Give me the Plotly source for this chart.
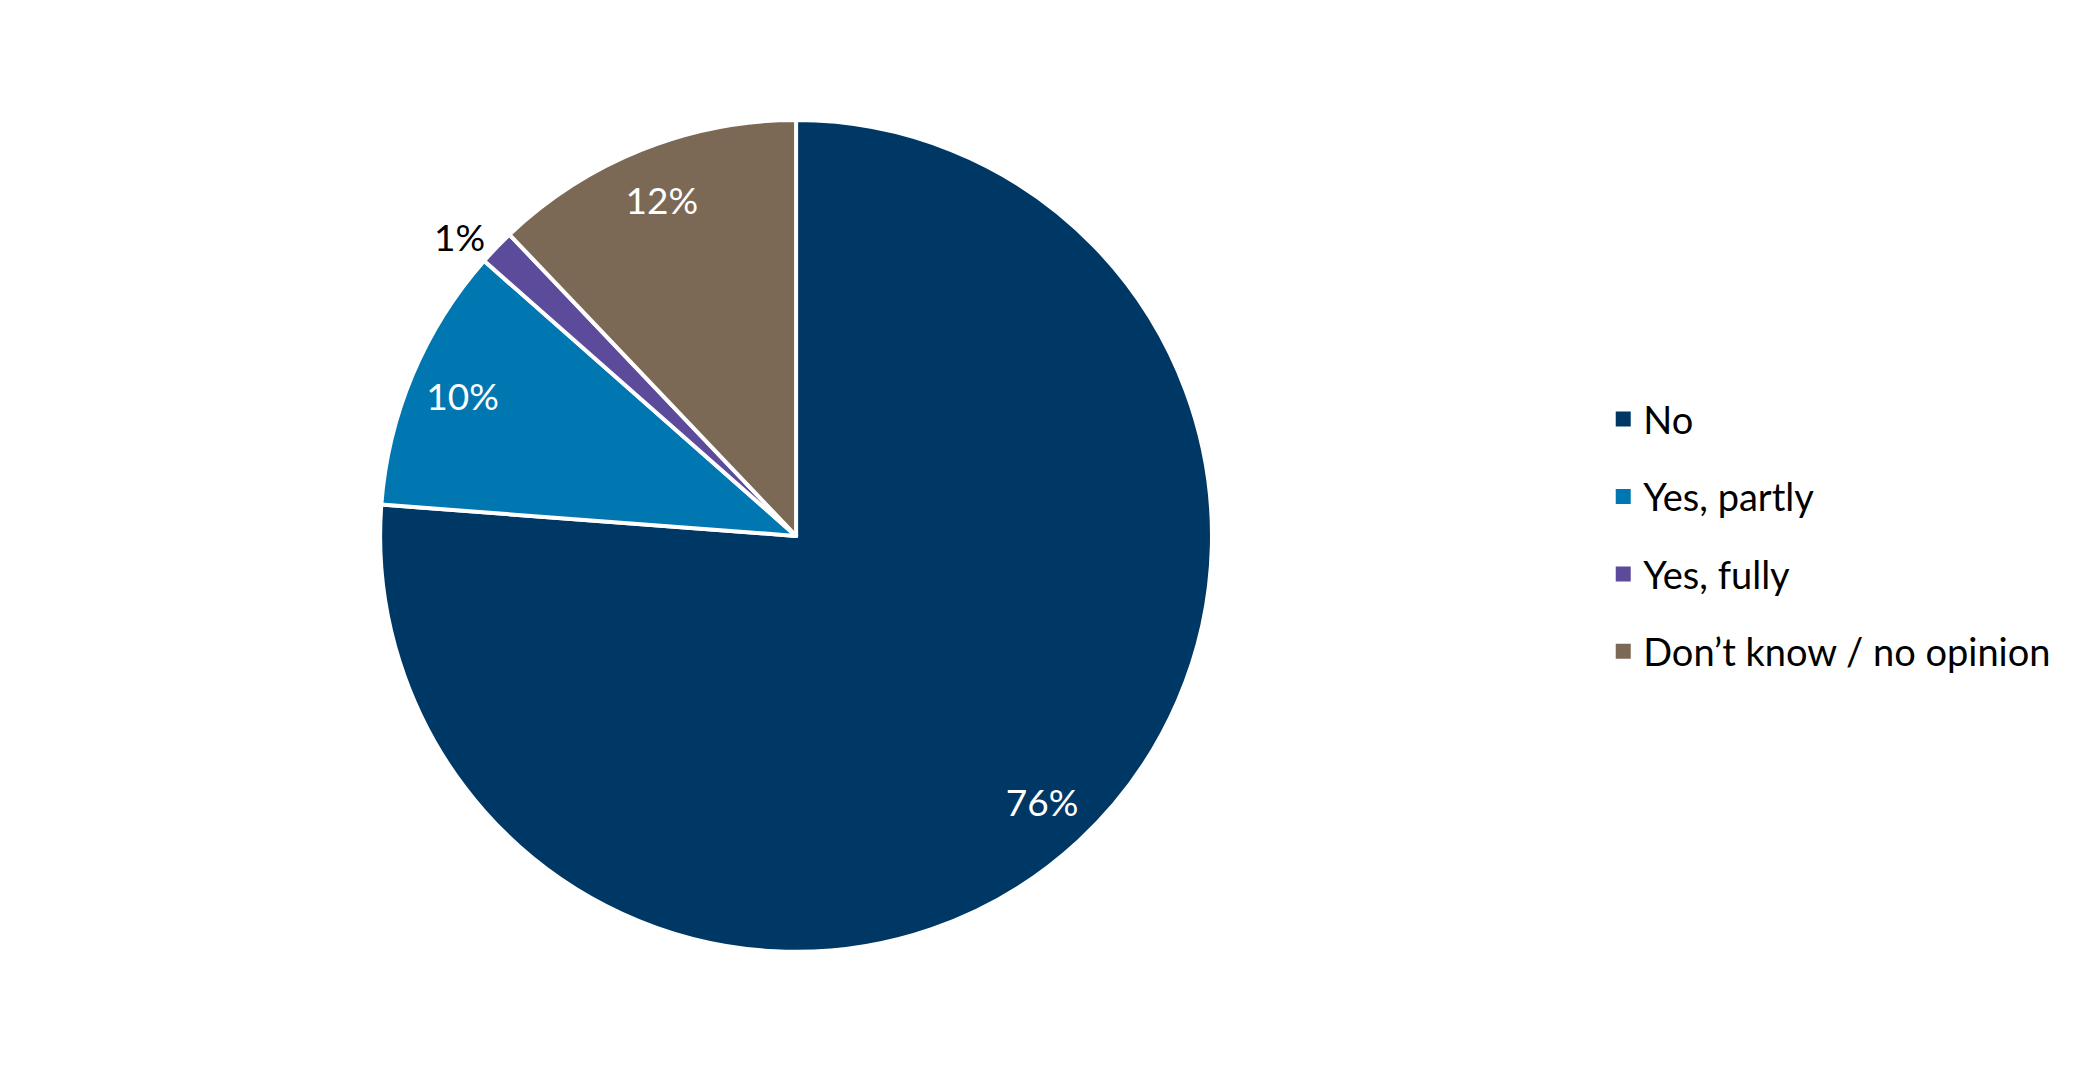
import plotly.graph_objects as go

categories = ["No", "Yes, partly", "Yes, fully", "Don\u2019t know / no opinion"]
shares = [76.2, 10.3, 1.4, 12.1]
colours = ["#003865", "#0077B0", "#5B4B9A", "#7B6955"]
label_col = ["white", "white", "black", "white"]

FONT = "Lato"
DOMAIN = dict(x=[0.1773, 0.5736], y=[0.1203, 0.8957])

fig = go.Figure()

# the pie itself; only the small slice gets its label outside
fig.add_trace(
	go.Pie(
		labels=categories,
		values=shares,
		sort=False,
		direction="clockwise",
		rotation=0,
		marker=dict(colors=colours, line=dict(color="white", width=4)),
		texttemplate="%{percent:.0%}",
		textposition=["none", "none", "outside", "none"],
		textfont=dict(family=FONT, size=37, color=label_col),
		domain=DOMAIN,
		showlegend=False,
		hoverinfo="label+percent",
	)
)

# transparent ring on top: puts the inside labels near the outer edge (like "inside end")
fig.add_trace(
	go.Pie(
		labels=categories,
		values=shares,
		sort=False,
		direction="clockwise",
		rotation=0,
		hole=0.74,
		marker=dict(colors=["rgba(0,0,0,0)"] * len(shares), line=dict(width=0)),
		texttemplate="%{percent:.0%}",
		textposition=["inside", "inside", "none", "inside"],
		insidetextorientation="horizontal",
		textfont=dict(family=FONT, size=37, color=label_col),
		domain=DOMAIN,
		showlegend=False,
		hoverinfo="skip",
	)
)

# legend entries, one per category, so the rows can be spaced like the original
for name, col in zip(categories, colours):
	fig.add_trace(
		go.Scatter(
			x=[None],
			y=[None],
			mode="markers",
			name=name,
			legendgroup=name,
			marker=dict(symbol="square", size=15, color=col),
		)
	)

fig.update_layout(
	width=2099,
	height=1073,
	margin=dict(l=0, r=0, t=0, b=0),
	paper_bgcolor="white",
	plot_bgcolor="white",
	xaxis=dict(visible=False),
	yaxis=dict(visible=False),
	legend=dict(
		x=0.76,
		y=0.5085,
		xanchor="left",
		yanchor="middle",
		font=dict(family=FONT, size=38, color="black"),
		tracegroupgap=25,
		traceorder="grouped",
		itemwidth=30,
	),
)

fig.write_html("out.html")
